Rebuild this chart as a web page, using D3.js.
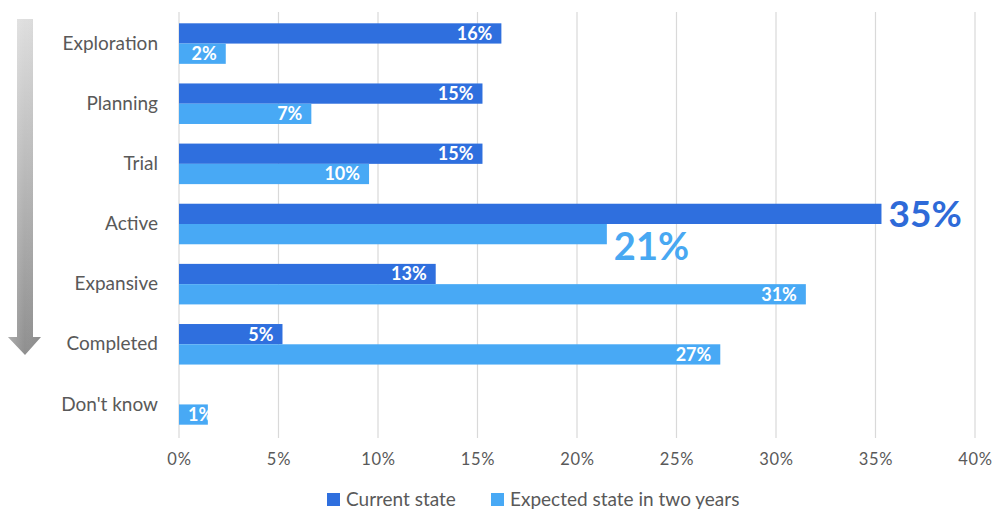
<!DOCTYPE html>
<html><head><meta charset="utf-8">
<script src="https://cdn.jsdelivr.net/npm/d3@7"></script>
<style>
html,body{margin:0;padding:0;background:#fff;}
svg{display:block;font-family:Lato,"Open Sans",sans-serif;}
</style></head>
<body>
<svg id="chart" width="997" height="510"></svg>
<script>
const categories = ["Exploration","Planning","Trial","Active","Expansive","Completed","Don't know"];
const seriesNames = ["Current state","Expected state in two years"];
const currentState = [16.2, 15.25, 15.25, 35.3, 12.9, 5.2, 0];
const expectedState = [2.35, 6.65, 9.55, 21.5, 31.5, 27.2, 1.45];
const currentLabels = ["16%","15%","15%","35%","13%","5%",""];
const expectedLabels = ["2%","7%","10%","21%","31%","27%","1%"];
const xTicks = [0,5,10,15,20,25,30,35,40];
const xTickLabels = ["0%","5%","10%","15%","20%","25%","30%","35%","40%"];

const colors = ["#2F6FDE","#48A9F5"];
const bigColors = ["#2E6AD8","#48A8F2"];

const svg = d3.select("#chart");
const x = d3.scaleLinear().domain([0,40]).range([179,975]);
const y = d3.scaleBand().domain(categories).range([13.5,434.5]).paddingInner(0.326).paddingOuter(0.163);
const ySub = d3.scaleBand().domain([0,1]).range([0,y.bandwidth()]);

// left arrow
const defs = svg.append("defs");
const g1 = defs.append("linearGradient").attr("id","arrowGrad").attr("x1",0).attr("y1",0).attr("x2",0).attr("y2",1);
g1.append("stop").attr("offset","0%").attr("stop-color","#dedede");
g1.append("stop").attr("offset","100%").attr("stop-color","#8f8f8f");
const g2 = defs.append("linearGradient").attr("id","arrowGradH").attr("x1",0).attr("y1",0).attr("x2",1).attr("y2",0);
g2.append("stop").attr("offset","0%").attr("stop-color","#fff").attr("stop-opacity",0.25);
g2.append("stop").attr("offset","50%").attr("stop-color","#fff").attr("stop-opacity",0);
g2.append("stop").attr("offset","100%").attr("stop-color","#000").attr("stop-opacity",0.05);
const arrowPath = "M17,19 L33,19 L33,337 L41,337 L25,355 L8,337 L17,337 Z";
svg.append("path").attr("d",arrowPath).attr("fill","url(#arrowGrad)");
svg.append("path").attr("d",arrowPath).attr("fill","url(#arrowGradH)");

// gridlines
svg.append("g").selectAll("line").data(xTicks).join("line")
  .attr("x1",d=>x(d)).attr("x2",d=>x(d)).attr("y1",12).attr("y2",438)
  .attr("stroke","#d9d9d9").attr("stroke-width",1.2);

// x axis tick labels
const xAxis = d3.axisBottom(x).tickValues(xTicks).tickFormat((d,i)=>xTickLabels[i]).tickSize(0).tickPadding(0);
const ax = svg.append("g").attr("transform","translate(0,453)").call(xAxis);
ax.select(".domain").remove();
ax.selectAll("text").attr("fill","#595959").style("font-size","16.5px").style("letter-spacing","0.8px")
  .style("font-family","Lato,'Open Sans',sans-serif");

// y axis category labels
const yAxis = d3.axisLeft(y).tickSize(0).tickPadding(0);
const ay = svg.append("g").attr("transform","translate(158,0)").call(yAxis);
ay.select(".domain").remove();
ay.selectAll("text").attr("fill","#595959").style("font-size","19px").style("font-family","Lato,'Open Sans',sans-serif");

const data = categories.map((c,i)=>({c, vals:[currentState[i],expectedState[i]], labels:[currentLabels[i],expectedLabels[i]]}));

const groups = svg.append("g").selectAll("g").data(data).join("g")
  .attr("transform",d=>`translate(0,${y(d.c)})`);

groups.each(function(d){
  const g = d3.select(this);
  d.vals.forEach((v,s)=>{
    if(v<=0) return;
    const y0 = ySub(s), h = ySub.bandwidth();
    g.append("rect").attr("x",x(0)).attr("y",y0).attr("width",x(v)-x(0)).attr("height",h).attr("fill",colors[s]);
  });
});

groups.each(function(d,i){
  const g = d3.select(this);
  d.vals.forEach((v,s)=>{
    const lab = d.labels[s];
    if(!lab || v<=0) return;
    const y0 = ySub(s), h = ySub.bandwidth();
    if(d.c==="Active"){
      g.append("text").attr("x",x(v)+7)
        .attr("y", s===0 ? y0+h/2+13.5 : y0+h/2+26)
        .attr("fill",bigColors[s]).style("font-size", s===0?"37px":"38px").style("font-weight","700")
        .text(lab);
      return;
    }
    const cid = `clip-${i}-${s}`;
    defs.append("clipPath").attr("id",cid).append("rect")
      .attr("x",x(0)).attr("y",-500).attr("width",x(v)-x(0)).attr("height",1000);
    const t = g.append("text").attr("y",y0+h/2).attr("dy","0.36em")
      .attr("fill","#fff").style("font-size","18px").style("font-weight","700").text(lab);
    const w = t.node().getComputedTextLength();
    if(x(v)-9-w < x(0)+9){
      t.attr("x",x(0)+9).attr("text-anchor","start").attr("clip-path",`url(#${cid})`);
    } else {
      t.attr("x",x(v)-9).attr("text-anchor","end");
    }
  });
});

// legend
const legend = svg.append("g").attr("transform","translate(0,499.5)");
const legX = [327, 491];
seriesNames.forEach((n,i)=>{
  legend.append("rect").attr("x",legX[i]).attr("y",-6.5).attr("width",13).attr("height",13).attr("fill",colors[i]);
  legend.append("text").attr("x",legX[i]+19).attr("y",0).attr("dy","0.36em")
    .attr("fill","#595959").style("font-size","19px").text(n);
});
</script>
</body></html>
